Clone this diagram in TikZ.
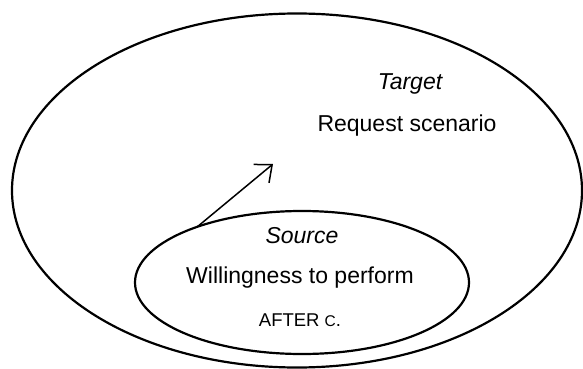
\documentclass[tikz,border=0pt]{standalone}
\usepackage{fontspec}
\setmainfont{Liberation Sans}
\usetikzlibrary{arrows.meta,shapes.geometric}

\begin{document}
\begin{tikzpicture}[x=1pt, y=-1pt, line cap=round, line join=round,
    blob/.style={ellipse, draw, line width=2.2pt, inner sep=0pt, outer sep=0pt},
    lbl/.style={inner sep=0pt, font=\fontsize{23}{26}\selectfont}]
  \useasboundingbox (0,0) rectangle (583,369);
  % outer and inner domains
  \node[blob, minimum width=570pt, minimum height=354pt] (tgt) at (297,190.5) {};
  \node[blob, minimum width=334pt, minimum height=143pt] (src) at (302,282.5) {};
  \node[lbl] (tgtname) at (410,84) {\itshape Target};
  \node[lbl] (tgttext) at (407,126) {Request scenario};
  \node[lbl] (srcname) at (302,236) {\itshape Source};
  \node[lbl] (srctext) at (300,278) {Willingness to perform};
  \node[inner sep=0pt, font=\fontsize{18.5}{20}\selectfont] (srcnote) at (300,320) {AFTER {\fontsize{15.5}{16}\selectfont C}.};
  \coordinate (tip) at (273,164);
  \draw[line width=1.5pt, -{Straight Barb[length=14pt, width=24pt, line width=1.5pt]}] (src.152.6) -- (tip);
\end{tikzpicture}
\end{document}
